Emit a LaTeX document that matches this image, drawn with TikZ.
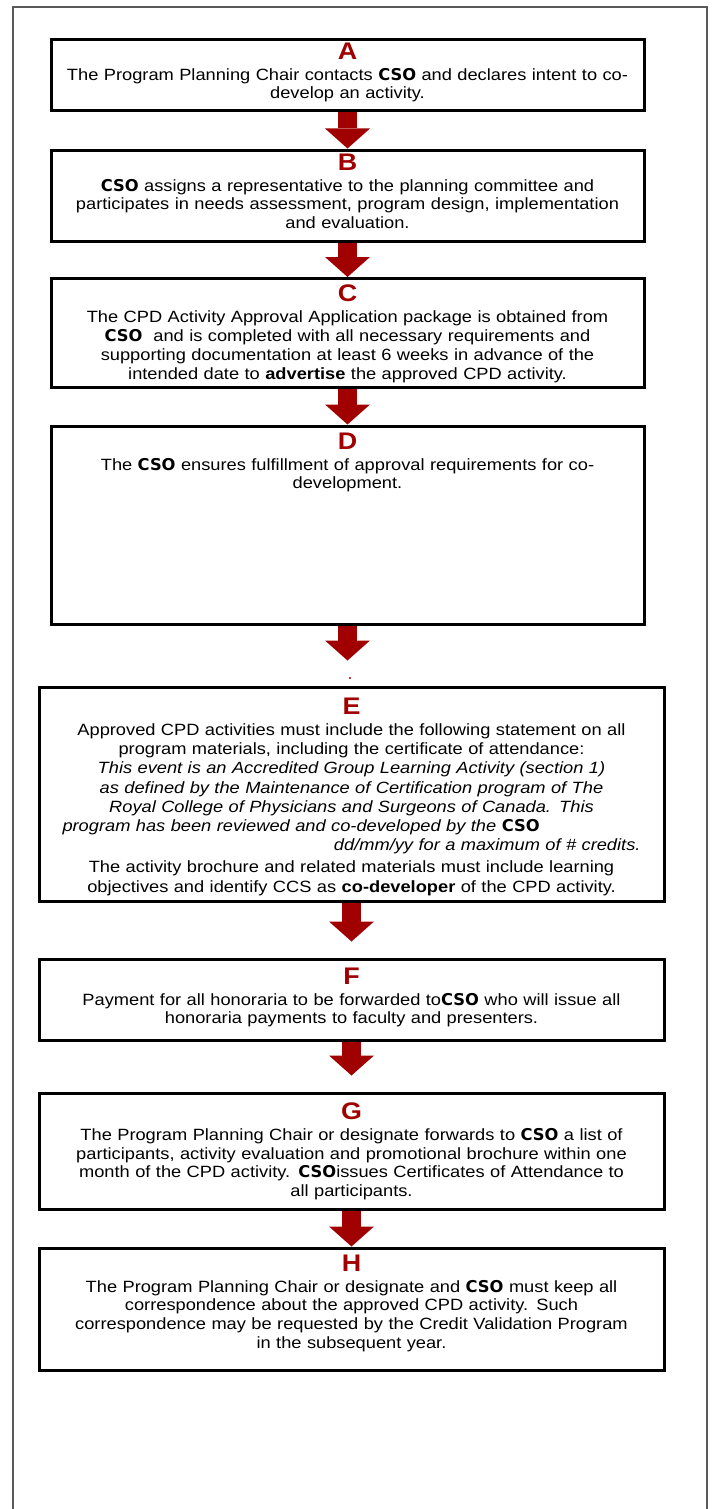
\documentclass[tikz,border=0pt]{standalone}
\usepackage{fontspec}
\setmainfont{Liberation Sans}[FakeStretch=1.12]
\newfontfamily\csofont{DejaVu Sans}
\usetikzlibrary{positioning, arrows.meta}
\definecolor{stepred}{RGB}{160,0,0}
\newcommand{\cso}{{\csofont\bfseries CSO}}
\newcommand{\stepletter}[1]{{\fontsize{24}{24}\selectfont\bfseries\color{stepred}#1}}
\tikzset{%
    stepbox/.style={draw, rectangle, line width=3pt, inner sep=0pt},
    steptext/.style={align=center, inner sep=0pt, text width=600pt, font=\fontsize{16.3}{18.8}\selectfont},
    steparrow/.style={draw=stepred, line width=19pt, -{Triangle[width=45pt, length=20pt, line width=0pt]}},
}

\begin{document}
\begin{tikzpicture}[x=1pt, y=-1pt]
	\useasboundingbox (0,0) rectangle (716,1509);
	\draw[line width=1.5pt, black!65] (13,1509) -- (13,7) -- (707,7) -- (707,1509);

	\node[stepbox, minimum width=593pt, minimum height=71pt] (boxA) at (347.5,75.5) {};
	\node[stepbox, minimum width=593pt, minimum height=91pt] (boxB) at (347.5,195.5) {};
	\node[stepbox, minimum width=593pt, minimum height=109pt] (boxC) at (347.5,333) {};
	\node[stepbox, minimum width=593pt, minimum height=198pt] (boxD) at (347.5,525) {};
	\node[stepbox, minimum width=625pt, minimum height=214pt] (boxE) at (351.5,794) {};
	\node[stepbox, minimum width=625pt, minimum height=81pt] (boxF) at (351.5,999.5) {};
	\node[stepbox, minimum width=625pt, minimum height=116pt] (boxG) at (351.5,1151) {};
	\node[stepbox, minimum width=625pt, minimum height=122pt] (boxH) at (351.5,1309) {};

	\node[steptext, below=4pt of boxA.north] (txtA) {\stepletter{A}\\[2pt]
		The Program Planning Chair contacts \cso{} and declares intent to co-\\
		develop an activity.};
	\node[steptext, below=5pt of boxB.north] (txtB) {\stepletter{B}\\[2pt]
		\cso{} assigns a representative to the planning committee and\\
		participates in needs assessment, program design, implementation\\
		and evaluation.};
	\node[steptext, below=8pt of boxC.north] (txtC) {\stepletter{C}\\[2pt]
		The CPD Activity Approval Application package is obtained from\\
		\cso{}\ \ and is completed with all necessary requirements and\\
		supporting documentation at least 6 weeks in advance of the\\
		intended date to \textbf{advertise} the approved CPD activity.};
	\node[steptext, below=8pt of boxD.north] (txtD) {\stepletter{D}\\[2pt]
		The \cso{} ensures fulfillment of approval requirements for co-\\
		development.};
	\node[steptext, text width=578pt, font=\fontsize{16.3}{19.2}\selectfont, below=12pt of boxE.north] (txtE) {\stepletter{E}\\[2pt]
		Approved CPD activities must include the following statement on all\\
		program materials, including the certificate of attendance:\\
		\textit{This event is an Accredited Group Learning Activity (section 1)}\\
		\textit{as defined by the Maintenance of Certification program of The}\\
		\textit{Royal College of Physicians and Surgeons of Canada. This}\\
		\makebox[\linewidth][l]{\textit{program has been reviewed and co-developed by the} \cso}\\
		\makebox[\linewidth][r]{\textit{dd/mm/yy for a maximum of \# credits.}}\\[3pt]
		The activity brochure and related materials must include learning\\
		objectives and identify CCS as \textbf{co-developer} of the CPD activity.};
	\node[steptext, below=10pt of boxF.north] (txtF) {\stepletter{F}\\[2pt]
		Payment for all honoraria to be forwarded to\cso{} who will issue all\\
		honoraria payments to faculty and presenters.};
	\node[steptext, below=11pt of boxG.north] (txtG) {\stepletter{G}\\[2pt]
		The Program Planning Chair or designate forwards to \cso{} a list of\\
		participants, activity evaluation and promotional brochure within one\\
		month of the CPD activity. \cso{}issues Certificates of Attendance to\\
		all participants.};
	\node[steptext, below=8pt of boxH.north] (txtH) {\stepletter{H}\\[2pt]
		The Program Planning Chair or designate and \cso{} must keep all\\
		correspondence about the approved CPD activity. Such\\
		correspondence may be requested by the Credit Validation Program\\
		in the subsequent year.};

	\draw[steparrow] (boxA.south) to (boxB.north);
	\draw[steparrow] (boxB.south) to (boxC.north);
	\draw[steparrow] (boxC.south) to (boxD.north);
	\draw[steparrow, shorten >=25pt] (boxD.south) to (boxD.south |- boxE.north);
	\draw[steparrow, shorten >=16pt] (boxE.south) to (boxF.north);
	\draw[steparrow, shorten >=16pt] (boxF.south) to (boxG.north);
	\draw[steparrow] (boxG.south) to (boxH.north);

	\fill[stepred] (350,678) circle (1.2pt);
\end{tikzpicture}
\end{document}
